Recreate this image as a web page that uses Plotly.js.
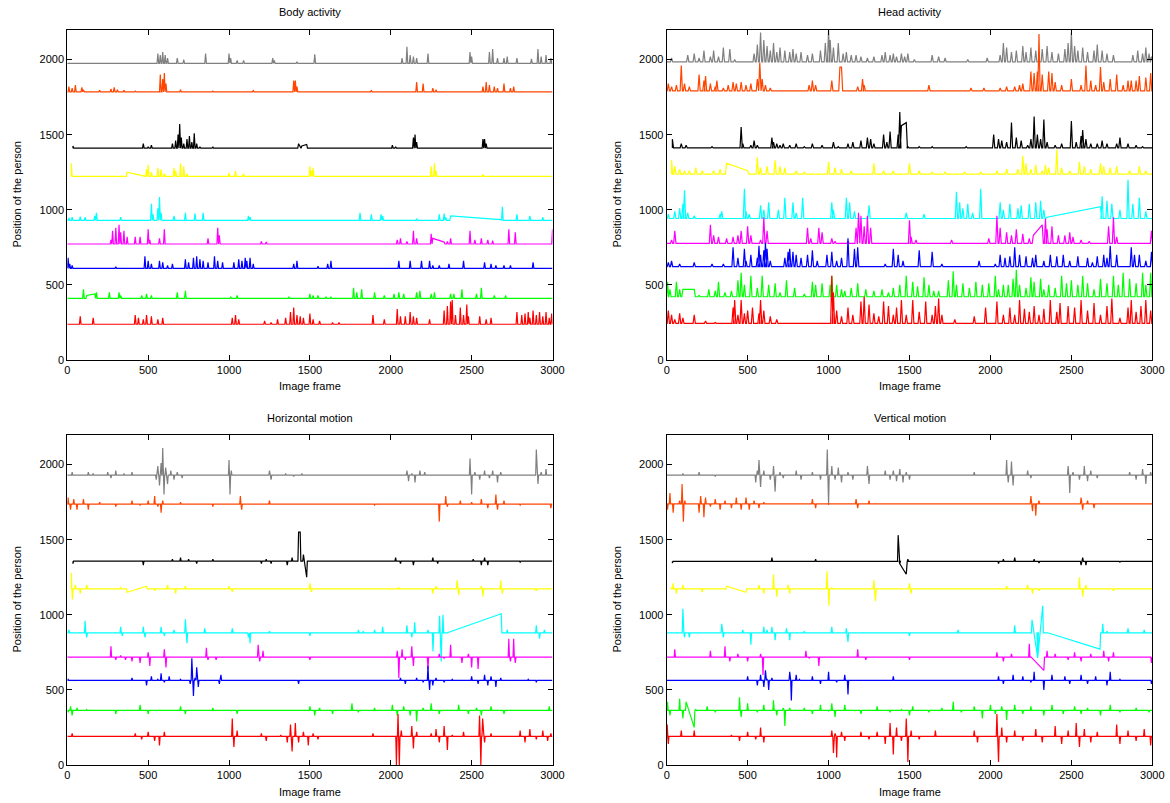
<!DOCTYPE html>
<html>
<head>
<meta charset="utf-8">
<script src="https://cdn.plot.ly/plotly-3.0.1.min.js"></script>
<style>html,body{margin:0;padding:0;background:#fff}#chart{width:1170px;height:803px}</style>
</head>
<body>
<div id="chart"></div>
<script>
// ---- DATA ----
const panelTitles = ["Body activity", "Head activity", "Horizontal motion", "Vertical motion"];
const xTitle = "Image frame";
const yTitle = "Position of the person";
const xTicks = [0, 500, 1000, 1500, 2000, 2500, 3000];
const yTicks = [0, 500, 1000, 1500, 2000];
// Series order (top to bottom)
const seriesNames = ["gray", "orange", "black", "yellow", "cyan", "magenta", "blue", "green", "red"];
const seriesColors = ["#808080", "#ff4500", "#000000", "#ffff00", "#00ffff", "#ff00ff", "#0000ff", "#00ff00", "#ff0000"];

// Baselines and first frames of each series per panel
const bodyBase = [1975, 1785, 1410, 1222, 930, 772, 610, 410, 238];
const bodyStart = [0, 0, 35, 25, 0, 0, 0, 0, 0];
const headBase = [1984, 1791, 1412, 1237, 942, 776, 621, 421, 244];
const headStart = [0, 0, 35, 30, 0, 0, 0, 0, 0];
const horizBase = [1929, 1736, 1357, 1173, 880, 718, 563, 364, 191];
const horizStart = [0, 0, 35, 25, 0, 0, 0, 0, 0];
const vertBase = [1929, 1738, 1355, 1173, 880, 718, 563, 364, 191];
const vertStart = [0, 0, 35, 25, 0, 0, 0, 0, 0];

// Events: [frame, value] peaks, or [f1, v1, f2, v2] straight segments (missing data)
// ---- Body activity ----
const body_gray = [[560,2040],[575,2030],[590,2050],[605,2030],[620,2010],[680,2010],[720,2000],[855,2040],[1000,2040],[1010,2010],[1050,1995],[1090,1995],[1270,2010],[1280,1995],[1420,1985],[1530,2035],[2070,2010],[2100,2085],[2120,2030],[2140,2020],[2160,2010],[2230,2040],[2490,2050],[2500,2020],[2610,2050],[2630,2070],[2660,2010],[2700,2010],[2720,2020],[2780,2010],[2870,2005],[2910,2070],[2930,2020],[2960,2030],[2990,2010]];
const body_orange = [[10,1820],[30,1810],[50,1830],[90,1815],[100,1800],[200,1795],[270,1805],[290,1815],[310,1800],[350,1795],[420,1790],[575,1900],[590,1870],[600,1910],[610,1840],[700,1800],[900,1790],[1150,1795],[1400,1860],[1410,1860],[1420,1820],[1880,1795],[2160,1850],[2200,1840],[2260,1810],[2280,1800],[2570,1820],[2590,1850],[2610,1830],[2640,1820],[2660,1810],[2700,1840],[2740,1810],[2760,1820]];
const body_black = [[35,1425],[470,1440],[500,1420],[520,1430],[650,1440],[670,1460],[685,1500],[695,1570],[705,1480],[720,1440],[740,1470],[755,1490],[770,1450],[785,1510],[800,1440],[820,1420],[900,1420],[1430,1440,1440,1425],[1450,1425,1480,1435],[2010,1430],[2030,1420],[2140,1480],[2150,1500],[2160,1450],[2570,1470],[2580,1470],[2590,1440]];
const body_yellow = [[25,1310],[370,1250,480,1225],[490,1270],[500,1300],[520,1250],[560,1280],[580,1270],[600,1240],[660,1280],[670,1260],[700,1310],[720,1290],[740,1240],[1000,1245],[1040,1260],[1090,1240],[1500,1290],[1510,1260],[1520,1280],[2250,1290],[2270,1310],[2280,1260],[2570,1235]];
const body_cyan = [[10,945],[30,950],[80,955],[110,950],[170,960],[180,980],[330,950],[520,1040],[530,970],[560,1010],[570,1085],[580,980],[660,960],[730,980],[790,975],[840,980],[1120,960],[1130,950],[1810,980],[1880,970],[1940,970],[1950,960],[2160,940],[2300,970],[2330,975],[2340,950],[2370,960,2680,935],[2690,1020],[2780,970],[2860,960],[2940,950]];
const body_magenta = [[270,800],[280,860],[300,880],[320,900],[330,850],[350,860],[370,820],[420,820],[450,820],[500,870],[510,800],[570,810],[600,870],[870,810],[930,880],[940,830],[1200,790],[1230,785],[1500,775],[2040,800],[2060,810],[2100,790],[2140,860],[2160,810],[2250,840],[2260,810,2330,785],[2350,790],[2370,810],[2490,860],[2520,800],[2560,810],[2600,800],[2630,795],[2730,870],[2770,850],[3000,870]];
const body_blue = [[5,680],[15,640],[30,630],[300,620],[480,690],[500,660],[520,640],[570,660],[590,650],[620,630],[650,640],[730,670],[750,650],[780,680],[800,690],[820,670],[840,660],[870,650],[910,690],[930,660],[960,650],[1030,650],[1060,670],[1080,660],[1100,680],[1110,660],[1130,680],[1150,640],[1400,640],[1420,660],[1550,625],[1610,640],[1630,660],[2050,660],[2120,660],[2190,660],[2240,660],[2260,630],[2300,630],[2360,640],[2450,660],[2580,650],[2620,640],[2650,630],[2700,630],[2740,630],[2880,650]];
const body_green = [[100,470],[120,430,170,440],[180,450],[260,450],[320,450],[330,430],[460,430],[490,440],[520,430],[680,450],[730,460],[1010,420],[1050,430],[1370,420],[1500,440],[1520,430],[1550,430],[1600,420],[1630,420],[1770,480],[1790,450],[1820,470],[1900,450],[1960,430],[2020,440],[2050,450],[2080,440],[2160,450],[2180,460],[2250,440],[2270,450],[2370,440],[2390,440],[2440,470],[2530,440],[2560,480],[2640,430],[2710,430]];
const body_red = [[80,290],[160,280],[420,300],[440,280],[470,270],[490,300],[520,290],[560,270],[590,280],[1020,280],[1040,300],[1060,270],[1220,260],[1260,250],[1300,270],[1350,280],[1380,320],[1400,350],[1420,300],[1440,290],[1460,280],[1500,310],[1520,270],[1560,260],[1640,250],[1680,250],[1890,300],[1960,270],[2040,340],[2060,290],[2090,290],[2120,320],[2140,290],[2160,280],[2240,270],[2330,330],[2350,360],[2370,390],[2380,400],[2400,300],[2430,350],[2450,300],[2470,370],[2480,290],[2550,290],[2590,270],[2620,280],[2780,320],[2810,300],[2830,310],[2850,320],[2860,280],[2880,330],[2900,300],[2920,320],[2940,290],[2960,320],[2980,280],[2995,310]];

// ---- Head activity ----
const head_gray = [[30,2010],[130,2030],[170,2040],[200,2010],[230,2060],[270,2020],[290,2060],[320,2020],[350,2080],[390,2070],[420,2000],[540,2040],[560,2100],[580,2180],[600,2130],[620,2090],[640,2060],[660,2110],[680,2050],[700,2080],[730,2060],[760,2050],[780,2070],[800,2040],[830,2050],[870,2030],[900,2040],[950,2060],[980,2110],[1000,2200],[1010,2130],[1030,2080],[1060,2110],[1090,2040],[1110,2050],[1140,2030],[1170,2030],[1200,2020],[1240,2010],[1280,2020],[1330,2030],[1350,2050],[1380,2030],[1400,2040],[1420,2020],[1450,2040],[1470,2020],[1490,2040],[1530,2000],[1640,2030],[1680,2020],[1720,2010],[1860,2000],[1980,2010],[2060,2030],[2080,2110],[2100,2080],[2130,2050],[2160,2060],[2200,2090],[2220,2050],[2250,2080],[2280,2060],[2320,2070],[2350,2090],[2380,2050],[2420,2040],[2460,2070],[2480,2110],[2500,2180],[2520,2090],[2540,2060],[2570,2080],[2600,2050],[2640,2060],[2660,2100],[2690,2060],[2720,2040],[2760,2030],[2880,2030],[2910,2060],[2940,2040],[2960,2080],[2980,2040],[2995,2020]];
const head_orange = [[10,1840],[30,1820],[60,1830],[90,1960],[110,1840],[140,1820],[200,1900],[230,1860],[240,1890],[270,1840],[300,1820],[310,1860],[350,1810],[380,1830],[410,1850],[430,1840],[460,1850],[490,1830],[520,1840],[560,1870],[575,1980],[590,1870],[610,1830],[640,1810],[880,1830],[900,1860],[920,1830],[1020,1860],[1070,1950,1080,1950],[1180,1820],[1210,1870],[1220,1830],[1620,1830],[1880,1810],[1960,1810],[2060,1810],[2100,1820],[2150,1820],[2180,1830],[2200,1840],[2250,1920],[2270,1910],[2290,1920],[2300,2170],[2320,1900],[2360,1920],[2380,1910],[2400,1850],[2440,1830],[2500,1870],[2560,1830],[2590,1960],[2620,1860],[2650,1830],[2680,1950],[2700,1850],[2740,1870],[2780,1900],[2820,1830],[2850,1860],[2870,1860],[2900,1860],[2920,1890],[2960,1880],[2990,1910]];
const head_black = [[35,1470],[90,1440],[120,1430],[280,1420],[460,1550],[470,1440],[520,1430],[540,1460],[560,1430],[650,1480],[660,1450],[680,1440],[700,1430],[720,1440],[760,1430],[800,1440],[850,1420],[900,1440],[960,1430],[1030,1450],[1060,1420],[1120,1440],[1150,1450],[1200,1460],[1240,1480],[1260,1470],[1280,1440],[1340,1500],[1360,1450],[1380,1520],[1430,1500],[1440,1650],[1450,1560,1480,1580],[1490,1420],[1560,1420],[1640,1420],[1850,1420],[2020,1500],[2050,1470],[2070,1460],[2100,1450],[2130,1580],[2160,1480],[2190,1460],[2230,1430],[2250,1470],[2270,1620],[2290,1500],[2310,1470],[2330,1600],[2350,1450],[2400,1430],[2440,1440],[2500,1590],[2530,1450],[2560,1490],[2570,1530],[2590,1470],[2620,1440],[2660,1440],[2690,1460],[2720,1440],[2780,1440],[2800,1480],[2850,1440],[2900,1430],[2940,1420]];
const head_yellow = [[30,1330],[50,1290],[80,1270],[110,1260],[140,1260],[180,1280],[220,1260],[290,1260],[330,1270],[370,1310,500,1260],[560,1350],[580,1280],[620,1290],[670,1330],[700,1290],[730,1280],[800,1260],[850,1250],[1000,1320],[1040,1280],[1080,1270],[1140,1260],[1280,1310],[1340,1260],[1400,1260],[1500,1310],[1560,1260],[1640,1250],[1720,1250],[1840,1250],[1940,1250],[2040,1260],[2100,1270],[2170,1270],[2200,1360],[2220,1310],[2250,1270],[2280,1300],[2320,1260],[2340,1300],[2360,1280],[2410,1400],[2440,1280],[2490,1260],[2550,1320],[2580,1290],[2620,1270],[2680,1310],[2700,1290],[2740,1280],[2780,1290],[2860,1260],[2920,1290],[2960,1260]];
const head_cyan = [[10,970],[50,990],[80,1010],[100,1040],[110,1130],[130,980],[170,960],[330,970],[340,990],[480,1140],[490,990],[510,970],[580,1030],[600,1000],[630,1050],[690,1000],[730,1080],[780,1050],[800,980],[840,1080],[1020,1050],[1030,1000],[1110,1080],[1130,1050],[1160,990],[1250,1030],[1480,980],[1590,970],[1790,1120],[1810,1050],[1830,1010],[1860,1040],[1890,980],[1940,1140],[2060,1050],[2080,1000],[2120,1040],[2170,1010],[2190,1030],[2240,1040],[2280,1050],[2310,1060],[2330,1000],[2350,950,2680,1020],[2690,1090],[2720,1060],[2750,1040],[2800,1000],[2850,1200],[2880,1040],[2920,1080],[2960,990]];
const head_magenta = [[30,800],[50,860],[270,900],[290,830],[320,820],[370,810],[410,820],[440,830],[460,860],[500,890],[520,830],[580,800],[600,950],[620,860],[870,880],[890,810],[940,880],[960,850],[1020,810],[1040,790],[1120,790],[1170,880],[1185,980],[1200,960],[1220,890],[1240,960],[1260,880],[1500,930],[1510,820],[1540,800],[1760,800],[1990,810],[2040,960],[2060,880],[2100,850],[2130,830],[2160,870],[2200,840],[2240,810],[2265,830,2320,900],[2340,940],[2350,870],[2380,890],[2420,830],[2460,830],[2490,850],[2510,820],[2560,800],[2610,790],[2730,890],[2760,950],[2780,820],[2995,860]];
const head_blue = [[10,650],[30,660],[80,640],[170,650],[280,640],[350,640],[410,750],[440,680],[480,740],[490,660],[520,700],[560,680],[570,760],[580,700],[600,730],[610,780],[620,740],[640,660],[730,680],[750,720],[760,740],[780,720],[800,700],[830,680],[870,700],[900,730],[930,660],[990,700],[1020,720],[1050,660],[1080,680],[1120,810],[1160,740],[1180,750],[1350,640],[1400,740],[1430,700],[1460,660],[1560,730],[1640,720],[1700,640],[1930,660],[2030,640],[2060,700],[2090,680],[2120,690],[2150,750],[2180,700],[2220,690],[2260,680],[2280,700],[2330,660],[2370,700],[2410,690],[2450,700],[2490,660],[2540,690],[2600,680],[2630,650],[2660,690],[2700,700],[2720,680],[2740,760],[2780,700],[2870,750],[2890,700],[2920,700],[2960,660],[2995,720]];
const head_green = [[5,520],[20,470],[60,520],[80,470],[100,470,170,470],[200,430],[260,470],[300,460],[320,520],[360,450],[400,460],[440,530],[460,580],[480,500],[520,560],[560,480],[590,560],[630,500],[670,510],[700,450],[740,530],[790,480],[850,440],[900,520],[920,500],[960,510],[1010,500],[1020,560],[1050,500],[1080,470],[1100,460],[1140,480],[1180,510],[1230,470],[1280,460],[1330,470],[1370,450],[1400,480],[1440,500],[1480,560],[1520,520],[1550,490],[1590,550],[1620,500],[1650,460],[1680,460],[1740,530],[1770,590],[1790,500],[1830,510],[1870,480],[1910,520],[1950,500],[1990,510],[2030,560],[2050,470],[2080,500],[2110,500],[2140,540],[2160,600],[2180,500],[2220,480],[2250,550],[2270,520],[2310,540],[2330,470],[2360,500],[2400,480],[2440,560],[2470,510],[2500,530],[2540,500],[2570,560],[2600,510],[2640,470],[2680,540],[2720,510],[2760,560],[2790,500],[2820,580],[2860,540],[2900,510],[2940,580],[2960,500],[2990,580]];
const head_red = [[10,330],[30,300],[50,270],[80,310],[100,280],[170,300],[240,260],[300,250],[410,350],[420,400],[440,300],[460,400],[480,310],[500,330],[530,350],[570,310],[580,400],[600,330],[640,290],[680,270],[1020,560],[1030,450],[1050,330],[1080,290],[1120,350],[1150,300],[1200,390],[1220,420],[1250,370],[1280,310],[1310,290],[1340,390],[1370,360],[1400,300],[1420,350],[1450,400],[1480,300],[1520,400],[1560,320],[1600,390],[1640,300],[1660,360],[1680,410],[1700,300],[1780,270],[1900,290],[1970,350],[2040,390],[2080,300],[2120,350],[2150,300],[2180,400],[2210,340],[2240,320],[2270,360],[2300,300],[2330,340],[2370,400],[2410,320],[2430,380],[2480,360],[2520,350],[2560,400],[2600,330],[2640,380],[2680,300],[2720,360],[2750,410],[2800,280],[2850,350],[2870,400],[2900,320],[2930,360],[2960,400],[2990,330]];

// ---- Horizontal motion ----
const horiz_gray = [[30,1950],[130,1950],[160,1940],[250,1950],[270,1910],[300,1960],[350,1940],[400,1950],[550,1900],[560,1990],[570,1860],[580,2010],[590,2110],[598,1800],[608,1980],[620,1870],[640,1960],[660,1900],[680,1950],[710,1910],[1000,2030],[1006,1800],[1014,1960],[1250,1960],[1260,1900],[1350,1940],[1400,1920],[1450,1940],[2100,1960],[2110,1890],[2130,1940],[2150,1880],[2180,1960],[2210,1950],[2490,2040],[2500,1800],[2520,1950],[2550,1900],[2580,1960],[2610,1910],[2630,1960],[2660,1880],[2680,1950],[2900,2100],[2910,1870],[2930,1950],[2960,1970]];
const horiz_orange = [[5,1780],[20,1700],[40,1770],[60,1700],[100,1770],[130,1700],[200,1750],[300,1720],[400,1760],[450,1730],[500,1760],[540,1790],[560,1720],[580,1680],[590,1760],[700,1750],[900,1720],[1070,1790],[1078,1700],[1250,1760],[1900,1730],[2300,1620],[2340,1790],[2350,1720],[2430,1760],[2500,1750],[2560,1770],[2600,1710],[2650,1800],[2660,1700],[2700,1760],[2800,1730],[2990,1710]];
const horiz_black = [[35,1340],[470,1330],[650,1370],[700,1380],[750,1370],[800,1340],[900,1370],[1200,1340],[1230,1370],[1260,1340],[1360,1330],[1390,1380],[1430,1550,1440,1550],[1460,1400,1480,1250],[1490,1360],[2030,1380],[2060,1340],[2140,1330],[2260,1380],[2290,1340],[2510,1370],[2560,1330],[2580,1380],[2600,1330],[2800,1350]];
const horiz_yellow = [[25,1280],[32,1100],[50,1200],[80,1140],[120,1200],[330,1180],[370,1150,490,1190],[540,1160],[620,1200],[670,1140],[730,1190],[1000,1190],[1020,1150],[1090,1170],[1500,1210],[1510,1150],[2050,1180],[2260,1140],[2280,1190],[2410,1230],[2420,1130],[2560,1190],[2570,1120],[2680,1230],[2690,1140],[2900,1160]];
const horiz_cyan = [[10,900],[110,960],[120,850],[330,920],[340,860],[470,920],[480,850],[580,920],[600,860],[660,900],[730,970],[740,810],[850,910],[1020,910],[1120,850],[1130,810],[1250,890],[1500,860],[1800,900],[1830,890],[1900,900],[1950,920],[2100,930],[2130,850],[2148,950],[2230,900],[2261,755],[2302,993],[2312,689],[2323,1000],[2354,882,2683,1007],[2700,880],[2720,900],[2900,930],[2920,840],[2950,900]];
const horiz_magenta = [[270,790],[290,720],[300,700],[330,730],[360,700],[400,690],[450,680],[500,750],[510,660],[600,770],[610,650],[860,780],[870,700],[920,700],[1000,720],[1180,800],[1190,690],[1210,760],[1500,700],[2040,760],[2050,580],[2070,770],[2090,700],[2130,790],[2140,660],[2200,720],[2230,640],[2260,720],[2300,740],[2330,710],[2370,800],[2400,720],[2440,680],[2480,740],[2500,650],[2540,640],[2620,720],[2730,840],[2740,690],[2760,840],[2770,680]];
const horiz_blue = [[5,570],[30,560],[400,580],[490,530],[520,590],[560,570],[580,610],[600,550],[630,590],[700,570],[740,560],[760,540],[770,710],[780,460],[790,580],[800,650],[810,520],[940,540],[950,600],[1000,560],[1430,540],[2060,580],[2090,540],[2160,580],[2200,550],[2230,660],[2240,500],[2260,530],[2280,580],[2330,550],[2380,570],[2500,590],[2540,540],[2580,600],[2600,530],[2620,590],[2650,520],[2680,580],[2720,560],[2850,570],[2900,550]];
const horiz_green = [[5,350],[20,390],[30,330],[60,380],[120,370],[300,340],[450,400],[500,340],[700,390],[730,340],[900,380],[1050,340],[1500,390],[1530,330],[1560,380],[1640,340],[1760,410],[1800,350],[1900,380],[2010,400],[2040,330],[2080,390],[2120,330],[2160,290],[2200,380],[2250,410],[2300,340],[2420,400],[2480,340],[2530,380],[2560,330],[2620,390],[2700,340],[2980,390]];
const horiz_red = [[30,210],[420,210],[460,170],[500,220],[540,160],[570,130],[600,220],[1020,310],[1030,120],[1050,230],[1200,210],[1230,160],[1320,200],[1360,150],[1380,270],[1390,90],[1410,280],[1430,150],[1460,220],[1490,130],[1520,210],[1550,170],[1890,210],[2035,0],[2045,340],[2053,0],[2065,230],[2130,260],[2140,110],[2160,220],[2250,210],[2280,240],[2300,150],[2330,260],[2350,100],[2380,200],[2450,220],[2549,330],[2557,0],[2568,310],[2580,150],[2620,210],[2800,230],[2830,150],[2860,240],[2900,170],[2940,230],[2970,160],[2990,210]];

// ---- Vertical motion ----
const vert_gray = [[100,1940],[200,1950],[300,1920],[550,1880],[560,1960],[570,2030],[580,1850],[600,1960],[640,1900],[660,1990],[670,1820],[700,1950],[720,1910],[800,1960],[830,1900],[900,1950],[950,1900],[992,2100],[1000,1730],[1020,1990],[1040,1900],[1060,1980],[1080,1880],[1120,1950],[1150,1900],[1240,1990],[1250,1870],[1350,1960],[1380,1900],[1400,1960],[1420,1890],[1440,1970],[1460,1880],[1480,1950],[1500,1900],[1900,1950],[2100,2030],[2110,1880],[2130,2020],[2140,1860],[2230,1960],[2250,1910],[2480,1990],[2490,1810],[2510,1950],[2550,1900],[2580,1990],[2600,1890],[2620,1960],[2660,1910],[2860,1950],[2900,1900],[2940,1970],[2960,1870],[2990,1950]];
const vert_orange = [[5,1700],[20,1810],[40,1680],[80,1760],[95,1870],[103,1620],[112,1760],[200,1680],[210,1790],[230,1650],[240,1780],[270,1720],[300,1770],[330,1700],[360,1760],[400,1710],[430,1780],[460,1700],[490,1780],[510,1700],[540,1760],[570,1710],[600,1750],[900,1770],[920,1710],[1170,1770],[1180,1710],[1250,1760],[2250,1790],[2260,1690],[2280,1660],[2300,1760],[2560,1780],[2570,1700],[2600,1760],[2640,1710],[2700,1740]];
const vert_black = [[35,1345],[650,1380],[920,1370],[1430,1530,1440,1340],[1440,1340,1480,1270],[1490,1370],[2050,1340],[2080,1370],[2150,1380],[2270,1370],[2300,1345],[2560,1330],[2570,1380],[2590,1330],[2800,1350]];
const vert_yellow = [[25,1180],[40,1210],[60,1140],[100,1200],[220,1150],[370,1190,490,1150],[570,1200],[600,1140],[660,1270],[680,1120],[750,1200],[760,1140],[990,1290],[1002,1060],[1020,1180],[1280,1230],[1290,1090],[1500,1210],[1510,1140],[2100,1190],[2230,1200],[2260,1140],[2300,1160],[2550,1250],[2570,1120],[2590,1200],[2760,1160]];
const vert_cyan = [[100,1040],[110,850],[140,850],[340,940],[350,850],[470,900],[520,800],[600,920],[620,900],[650,920],[670,830],[740,910],[760,830],[850,890],[1020,920],[1110,910],[1120,820],[1500,860],[1800,900],[1950,880],[2150,930],[2257,967,2292,713],[2292,713,2323,1060],[2354,880,2677,771],[2694,940],[2720,890],[2850,910],[2950,900]];
const vert_magenta = [[50,770],[270,760],[360,790],[390,690],[440,740],[500,690],[580,740],[595,600],[860,760],[880,710],[940,660],[1180,770],[1230,700],[1500,700],[2040,750],[2080,690],[2130,740],[2240,807],[2250,720,2330,630],[2350,760],[2400,740],[2480,700],[2520,750],[2560,690],[2620,740],[2700,760],[2730,690],[2760,750],[2995,680]];
const vert_blue = [[500,590],[560,530],[580,600],[600,520],[610,630],[620,570],[630,500],[650,580],[760,620],[770,430],[800,600],[820,570],[900,590],[950,540],[1000,620],[1050,550],[1100,600],[1120,470],[1400,590],[2050,590],[2080,540],[2140,600],[2200,590],[2250,550],[2270,620],[2330,500],[2380,600],[2460,590],[2490,540],[2560,600],[2600,540],[2650,590],[2720,530],[2740,620],[2800,570],[2920,560],[2995,540]];
const vert_green = [[5,420],[20,330],[80,440],[100,310],[120,420,170,250],[180,370],[250,390],[300,350],[450,450],[460,320],[500,410],[560,350],[600,400],[660,430],[680,330],[720,380],[730,260],[760,380],[850,380],[900,340],[950,400],[1000,360],[1020,410],[1040,320],[1100,400],[1200,340],[1300,390],[1380,350],[1450,370],[1500,330],[1520,390],[1620,350],[1700,380],[1770,420],[1820,350],[1900,390],[1950,310],[2000,400],[2030,340],[2070,390],[2100,300],[2150,400],[2200,340],[2250,390],[2330,330],[2380,400],[2450,340],[2520,390],[2560,340],[2600,380],[2680,330],[2740,400],[2800,350],[2900,380],[2980,350]];
const vert_red = [[3,270],[10,140],[90,230],[170,230],[400,200],[450,160],[500,220],[550,170],[580,250],[600,150],[1020,230],[1030,80],[1040,210],[1050,50],[1080,220],[1100,160],[1200,220],[1250,170],[1300,220],[1350,140],[1380,280],[1400,70],[1420,250],[1450,160],[1480,310],[1490,20],[1510,230],[1560,170],[1660,230],[1900,230],[1920,150],[2040,340],[2050,20],[2070,250],[2100,150],[2150,230],[2200,160],[2280,240],[2320,150],[2400,260],[2440,140],[2480,230],[2530,280],[2550,120],[2580,240],[2620,150],[2660,220],[2780,270],[2800,140],[2850,230],[2900,160],[2950,240],[2990,130]];

// ---- BUILD ----
const panels = [
  {base: bodyBase, start: bodyStart, ev: [body_gray, body_orange, body_black, body_yellow, body_cyan, body_magenta, body_blue, body_green, body_red]},
  {base: headBase, start: headStart, ev: [head_gray, head_orange, head_black, head_yellow, head_cyan, head_magenta, head_blue, head_green, head_red]},
  {base: horizBase, start: horizStart, ev: [horiz_gray, horiz_orange, horiz_black, horiz_yellow, horiz_cyan, horiz_magenta, horiz_blue, horiz_green, horiz_red]},
  {base: vertBase, start: vertStart, ev: [vert_gray, vert_orange, vert_black, vert_yellow, vert_cyan, vert_magenta, vert_blue, vert_green, vert_red]}
];
const panelHW = [5, 7, 4, 4];
function buildSeries(base, start, events, hw) {
  const x = [start], y = [base];
  for (const e of events) {
    if (e.length === 2) {
      x.push(Math.max(start, e[0] - hw), e[0], e[0] + hw);
      y.push(base, e[1], base);
    } else {
      x.push(Math.max(start, e[0] - hw), e[0], e[2], e[2] + hw);
      y.push(base, e[1], e[3], base);
    }
  }
  x.push(3000); y.push(base);
  return {x, y};
}

const traces = [];
panels.forEach((p, pi) => {
  const xa = pi === 0 ? 'x' : 'x' + (pi + 1);
  const ya = pi === 0 ? 'y' : 'y' + (pi + 1);
  p.ev.forEach((ev, si) => {
    const s = buildSeries(p.base[si], p.start[si], ev, panelHW[pi]);
    traces.push({type: 'scatter', mode: 'lines', x: s.x, y: s.y, xaxis: xa, yaxis: ya,
      name: seriesNames[si], line: {color: seriesColors[si], width: 1.2}, hoverinfo: 'skip'});
  });
});

const W = 1170, H = 803;
const colX = [[67.3 / W, 552.5 / W], [666.7 / W, 1152.3 / W]];
const rowY = [[1 - 360 / H, 1 - 29.5 / H], [1 - 765 / H, 1 - 434.5 / H]];
const font = {family: 'Liberation Sans, Arial, Helvetica, sans-serif', size: 11, color: '#000'};

function axisX(dom, anchor) {
  return {domain: dom, anchor: anchor, range: [0, 3000], tickvals: xTicks, ticktext: xTicks.map(String),
    ticks: 'inside', ticklen: 5, tickcolor: '#000', tickwidth: 1, showline: true, linecolor: '#000', linewidth: 1,
    mirror: 'allticks', showgrid: false, zeroline: false, tickfont: font, fixedrange: true};
}
function axisY(dom, anchor) {
  return {domain: dom, anchor: anchor, range: [0, 2200], tickvals: yTicks, ticktext: yTicks.map(String),
    ticks: 'inside', ticklen: 5, tickcolor: '#000', tickwidth: 1, showline: true, linecolor: '#000', linewidth: 1,
    mirror: 'allticks', showgrid: false, zeroline: false, tickfont: font, fixedrange: true};
}

const layout = {
  width: W, height: H, margin: {l: 0, r: 0, t: 0, b: 0},
  paper_bgcolor: '#fff', plot_bgcolor: '#fff', showlegend: false, font: font,
  xaxis: axisX(colX[0], 'y'), yaxis: axisY(rowY[0], 'x'),
  xaxis2: axisX(colX[1], 'y2'), yaxis2: axisY(rowY[0], 'x2'),
  xaxis3: axisX(colX[0], 'y3'), yaxis3: axisY(rowY[1], 'x3'),
  xaxis4: axisX(colX[1], 'y4'), yaxis4: axisY(rowY[1], 'x4'),
  annotations: []
};
const titleY = [1 - 12 / H, 1 - 418 / H];
const xTitleY = [1 - 386 / H, 1 - 792 / H];
const yTitleX = [16.5 / W, 616.5 / W];
const yTitleYc = [1 - 195 / H, 1 - 600 / H];
for (let r = 0; r < 2; r++) {
  for (let c = 0; c < 2; c++) {
    const cx = (colX[c][0] + colX[c][1]) / 2;
    layout.annotations.push({text: panelTitles[r * 2 + c], xref: 'paper', yref: 'paper', x: cx, y: titleY[r],
      xanchor: 'center', yanchor: 'middle', showarrow: false, font: font});
    layout.annotations.push({text: xTitle, xref: 'paper', yref: 'paper', x: cx, y: xTitleY[r],
      xanchor: 'center', yanchor: 'middle', showarrow: false, font: font});
    layout.annotations.push({text: yTitle, xref: 'paper', yref: 'paper', x: yTitleX[c], y: yTitleYc[r],
      xanchor: 'center', yanchor: 'middle', textangle: -90, showarrow: false, font: font});
  }
}

Plotly.newPlot('chart', traces, layout, {staticPlot: true, displayModeBar: false});
</script>
</body>
</html>
